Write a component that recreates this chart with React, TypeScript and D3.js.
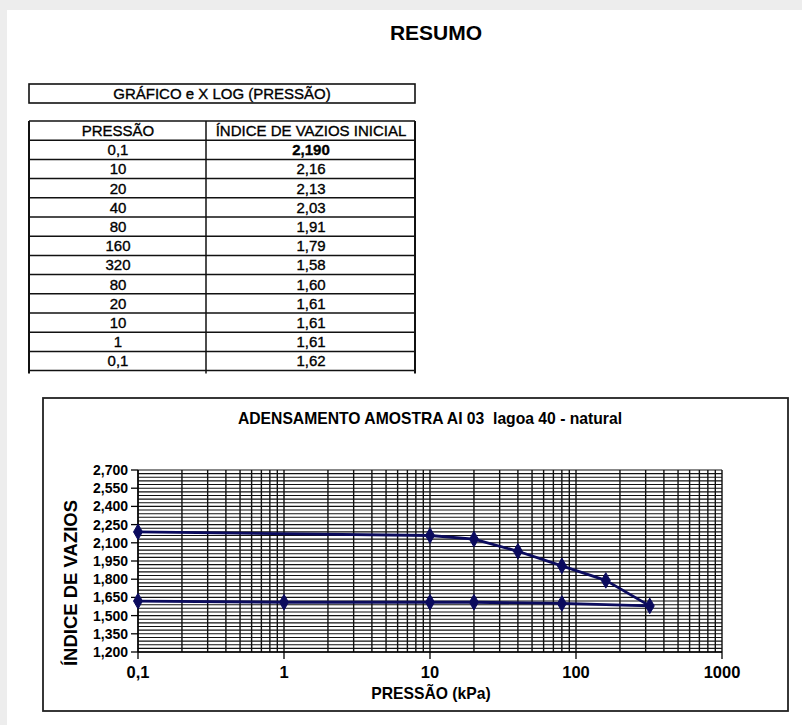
import React from "react";
import * as d3 from "d3";

// ---- data ----
const tablePressure = ["0,1", "10", "20", "40", "80", "160", "320", "80", "20", "10", "1", "0,1"];
const tableIndex = ["2,190", "2,16", "2,13", "2,03", "1,91", "1,79", "1,58", "1,60", "1,61", "1,61", "1,61", "1,62"];
const pressures = [0.1, 10, 20, 40, 80, 160, 320, 80, 20, 10, 1, 0.1];
const voidRatios = [2.19, 2.16, 2.13, 2.03, 1.91, 1.79, 1.58, 1.60, 1.61, 1.61, 1.61, 1.62];
const yTicks = [1.2, 1.35, 1.5, 1.65, 1.8, 1.95, 2.1, 2.25, 2.4, 2.55, 2.7];
const xTicks = [0.1, 1, 10, 100, 1000];
const xTickLabels = ["0,1", "1", "10", "100", "1000"];

const W = 802;
const H = 725;
const FONT = "'Liberation Sans', Arial, Helvetica, sans-serif";

export default function App() {
  const x = d3.scaleLog().domain([0.1, 1000]).range([138, 722]);
  const y = d3.scaleLinear().domain([1.2, 2.7]).range([652, 470]);

  const xGrid: number[] = [];
  [0.1, 1, 10, 100].forEach((d) => {
    for (let k = 1; k <= 9; k++) xGrid.push(k * d);
  });
  xGrid.push(1000);
  const yGrid = d3.range(0, 51).map((i) => 1.2 + i * 0.03);

  const line = d3
    .line<number>()
    .x((_, i) => x(pressures[i]))
    .y((v) => y(v));
  const diamond = d3.symbol().type(d3.symbolDiamond).size(70)();

  // table geometry
  const tL = 29, tM = 206, tR = 415, tTop = 121, rowH = 19.2;
  const reg = { fill: "#000", stroke: "#000", strokeWidth: 0.35 };

  return (
    <svg
      width={W}
      height={H}
      style={{ position: "absolute", left: 0, top: 0, fontFamily: FONT }}
    >
      <rect x={0} y={0} width={W} height={H} fill="#ededed" />
      <rect x={7} y={10} width={W - 7} height={H - 10} fill="#ffffff" />

      <text x={436} y={40} textAnchor="middle" fontSize={21} fontWeight="bold" fill="#000">
        RESUMO
      </text>

      {/* title box */}
      <rect x={tL} y={84} width={tR - tL} height={19} fill="none" stroke="#111" strokeWidth={1.6} />
      <text x={222} y={99} textAnchor="middle" fontSize={15} {...reg}>
        GRÁFICO e X LOG (PRESSÃO)
      </text>

      {/* table */}
      <g stroke="#111" strokeWidth={1.5}>
        <line x1={tL} x2={tR} y1={tTop} y2={tTop} />
        {d3.range(1, 14).map((i) => (
          <line key={i} x1={tL} x2={tR} y1={tTop + i * rowH} y2={tTop + i * rowH} />
        ))}
        <line x1={tL} x2={tL} y1={tTop} y2={tTop + 13 * rowH + 3} strokeWidth={2} />
        <line x1={tM} x2={tM} y1={tTop} y2={tTop + 13 * rowH + 3} />
        <line x1={tR} x2={tR} y1={tTop} y2={tTop + 13 * rowH + 3} strokeWidth={2} />
      </g>
      <text x={118} y={tTop + 15} textAnchor="middle" fontSize={15} {...reg}>
        PRESSÃO
      </text>
      <text x={311} y={tTop + 15} textAnchor="middle" fontSize={15} {...reg}>
        ÍNDICE DE VAZIOS INICIAL
      </text>
      {tablePressure.map((p, i) => (
        <g key={i}>
          <text x={118} y={tTop + (i + 1) * rowH + 15} textAnchor="middle" fontSize={15} {...reg}>
            {p}
          </text>
          <text
            x={311}
            y={tTop + (i + 1) * rowH + 15}
            textAnchor="middle"
            fontSize={15}
            fontWeight={i === 0 ? "bold" : "normal"}
            {...reg}
          >
            {tableIndex[i]}
          </text>
        </g>
      ))}

      {/* chart box */}
      <rect x={43} y={398} width={745} height={313} fill="#fff" stroke="#222" strokeWidth={1.8} />
      <text x={430} y={424} textAnchor="middle" fontSize={15.7} fontWeight="bold" fill="#000" style={{ whiteSpace: "pre" }}>
        {"ADENSAMENTO AMOSTRA AI 03\u00A0 lagoa 40 - natural"}
      </text>

      {/* grid */}
      <g stroke="#111" strokeWidth={1.1}>
        {yGrid.map((v, i) => (
          <line key={"h" + i} x1={138} x2={722} y1={y(v)} y2={y(v)} />
        ))}
        {xGrid.map((v, i) => (
          <line key={"v" + i} x1={x(v)} x2={x(v)} y1={470} y2={652} strokeWidth={1.4} />
        ))}
      </g>
      {/* axes */}
      <g stroke="#000" strokeWidth={1.3}>
        <line x1={138} x2={138} y1={470} y2={652} />
        <line x1={138} x2={722} y1={652} y2={652} />
        {yTicks.map((v, i) => (
          <line key={"yt" + i} x1={131} x2={138} y1={y(v)} y2={y(v)} />
        ))}
        {xTicks.map((v, i) => (
          <line key={"xt" + i} x1={x(v)} x2={x(v)} y1={652} y2={659} />
        ))}
      </g>
      {yTicks.map((v, i) => (
        <text
          key={"yl" + i}
          x={128}
          y={y(v) + 5}
          textAnchor="end"
          fontSize={14}
          fontWeight="bold"
          fill="#000"
        >
          {d3.format(".3f")(v).replace(".", ",")}
        </text>
      ))}
      {xTicks.map((v, i) => (
        <text
          key={"xl" + i}
          x={x(v)}
          y={678}
          textAnchor="middle"
          fontSize={16.5}
          fontWeight="bold"
          fill="#000"
        >
          {xTickLabels[i]}
        </text>
      ))}
      <text x={431} y={699} textAnchor="middle" fontSize={15.7} fontWeight="bold" fill="#000">
        PRESSÃO (kPa)
      </text>
      <text
        transform="translate(77,583) rotate(-90)"
        textAnchor="middle"
        fontSize={18.5}
        fontWeight="bold"
        fill="#000"
      >
        ÍNDICE DE VAZIOS
      </text>

      {/* series */}
      <path d={line(voidRatios) || ""} fill="none" stroke="#0b0b5e" strokeWidth={2.8} strokeLinejoin="round" />
      {voidRatios.map((v, i) => (
        <path
          key={"m" + i}
          d={diamond || ""}
          transform={`translate(${x(pressures[i])},${y(v)})`}
          fill="#0b0b5e"
          stroke="#0b0b5e"
        />
      ))}
    </svg>
  );
}
